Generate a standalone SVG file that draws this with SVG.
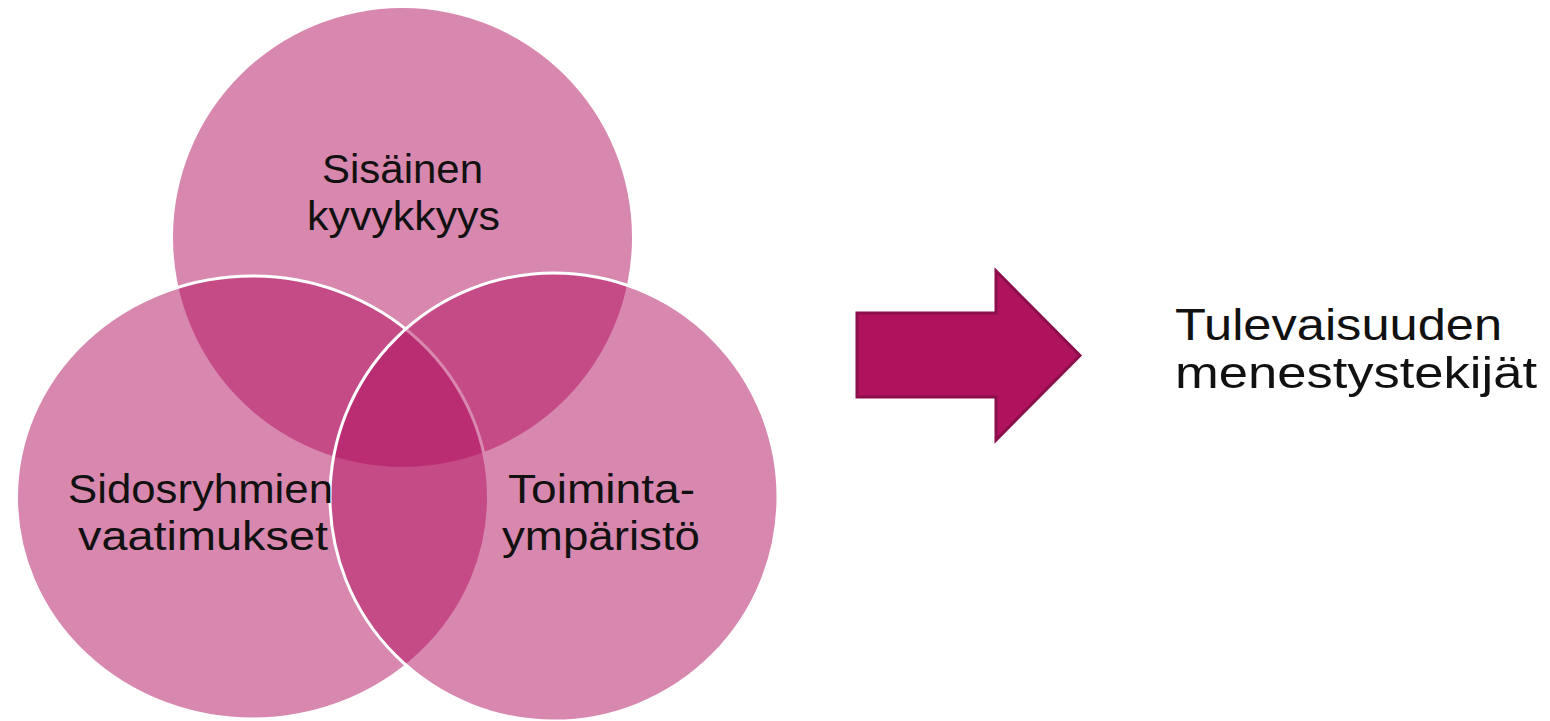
<svg xmlns="http://www.w3.org/2000/svg" width="1550" height="721" viewBox="0 0 1550 721">
  <style>
    .venn { fill: #B10F5D; fill-opacity: 0.5; }
    .edge { stroke: #FFFFFF; stroke-width: 3; }
    .lbl { font-family: "Liberation Sans", Arial, sans-serif; font-size: 41px; fill: #111111; text-anchor: middle; }
    .out { font-family: "Liberation Sans", Arial, sans-serif; font-size: 45px; fill: #111111; }
    .arrow { fill: #B0135E; stroke: #8C0F4C; stroke-width: 3; stroke-linejoin: miter; }
  </style>
  <rect width="1550" height="721" fill="#FFFFFF"/>
  <g id="node-sisainen">
    <circle class="venn" cx="402.5" cy="237.5" r="229.5"/>
  </g>
  <g id="node-sidosryhmien">
    <ellipse class="venn edge" cx="252.5" cy="497.5" rx="236" ry="221.5"/>
  </g>
  <g id="node-toiminta">
    <circle class="venn edge" cx="554" cy="497" r="224"/>
  </g>
  <g id="labels-venn">
    <text class="lbl" x="402.5" y="183" textLength="161" lengthAdjust="spacingAndGlyphs">Sisäinen</text>
    <text class="lbl" x="403.5" y="230" textLength="193" lengthAdjust="spacingAndGlyphs">kyvykkyys</text>
    <text class="lbl" x="200.5" y="503" textLength="265" lengthAdjust="spacingAndGlyphs">Sidosryhmien</text>
    <text class="lbl" x="203" y="550" textLength="250" lengthAdjust="spacingAndGlyphs">vaatimukset</text>
    <text class="lbl" x="601.5" y="503" textLength="187" lengthAdjust="spacingAndGlyphs">Toiminta-</text>
    <text class="lbl" x="601" y="550" textLength="198" lengthAdjust="spacingAndGlyphs">ympäristö</text>
  </g>
  <g id="connectors">
    <path id="arrow" class="arrow" d="M857,313 H996 V271 L1080,355.5 L996,440 V397 H857 Z"/>
  </g>
  <g id="node-tulevaisuuden">
    <text class="out" x="1175" y="340" textLength="327" lengthAdjust="spacingAndGlyphs">Tulevaisuuden</text>
    <text class="out" x="1175" y="388" textLength="362" lengthAdjust="spacingAndGlyphs">menestystekijät</text>
  </g>
</svg>
